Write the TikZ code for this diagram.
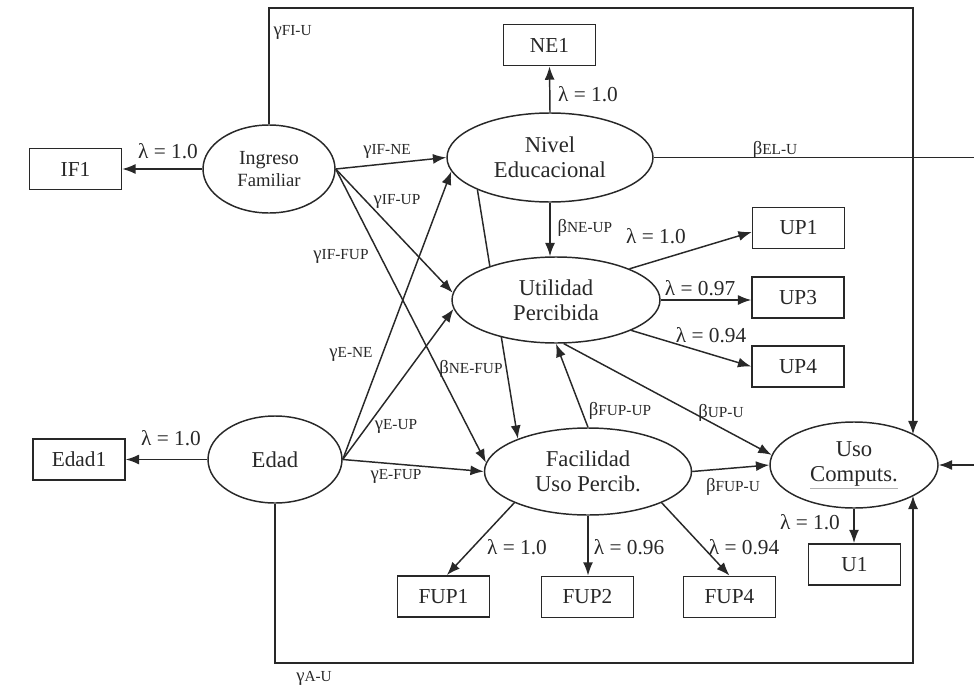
\documentclass[tikz,border=0pt]{standalone}
\usepackage{fontspec}
\setmainfont{Liberation Serif}
\usetikzlibrary{shapes.geometric,arrows.meta,backgrounds}
\newcommand\gl[1]{{\fontsize{14}{14}\selectfont γ}{\fontsize{11.5}{11.5}\selectfont #1}}
\newcommand\bl[1]{{\fontsize{14}{14}\selectfont β}{\fontsize{11.5}{11.5}\selectfont #1}}
\definecolor{ink}{RGB}{40,40,40}
\tikzset{
  lat/.style={draw=ink, ellipse, line width=1.1pt, fill=white, inner sep=0pt, align=center, text=ink, font=\fontsize{17}{19}\selectfont},
  obs/.style={draw=ink, rectangle, line width=1.1pt, inner sep=0pt, minimum width=69pt, minimum height=31pt, text=ink, font=\fontsize{16}{18}\selectfont},
  arr/.style={draw=ink, line width=1.1pt, -{Latex[length=10pt,width=7.5pt]}},
  ln/.style={draw=ink, line width=1.1pt},
  lam/.style={text=ink, inner sep=1pt, font=\fontsize{16}{18}\selectfont},
  coef/.style={text=ink, inner sep=1pt}
}
\begin{document}
\begin{tikzpicture}[x=0.75pt,y=-0.75pt]
\useasboundingbox (0,0) rectangle (974,692);
% latent variables
\node[lat, minimum width=99pt, minimum height=66pt] (ing) at (269,169) {{\fontsize{15}{17}\selectfont Ingreso}\\[-2pt]{\fontsize{14}{16}\selectfont Familiar}};
\node[lat, minimum width=154.5pt, minimum height=66.75pt] (niv) at (550,157.5) {Nivel\\Educacional};
\node[lat, minimum width=156pt, minimum height=64.5pt] (util) at (556,300) {Utilidad\\Percibida};
\node[lat, minimum width=100.5pt, minimum height=65.25pt] (edad) at (275,459.5) {Edad};
\node[lat, minimum width=155.25pt, minimum height=65.25pt] (fac) at (588,471.5) {Facilidad\\Uso Percib.};
\node[lat, minimum width=126pt, minimum height=64.5pt] (uso) at (854,465) {Uso\\{\color{gray!60}\underline{\textcolor{ink}{Computs.}}}};
% observed variables
\node[obs] (if1) at (75.5,169) {IF1};
\node[obs] (ne1) at (549.5,45) {NE1};
\node[obs] (up1) at (798.5,228) {UP1};
\node[obs] (up3) at (798,297.5) {UP3};
\node[obs] (up4) at (798,366.5) {UP4};
\node[obs] (edad1) at (79,459.5) {Edad1};
\node[obs] (fup1) at (443.5,596.5) {FUP1};
\node[obs] (fup2) at (587.5,597) {FUP2};
\node[obs] (fup4) at (729.5,597) {FUP4};
\node[obs] (u1) at (854.5,564.5) {U1};
% free ends
\coordinate (tr) at (913,8);
\coordinate (br) at (913,663);
\coordinate (elr) at (974,157.5);
\coordinate (rin) at (974,465);
% line hidden behind Utilidad
\begin{pgfonlayer}{background}
\draw[arr] (niv.204) -- (fac.155);
\end{pgfonlayer}
% measurement arrows
\draw[arr] (ing.west) -- (if1.east);
\draw[arr] (edad.west) -- (edad1.east);
\draw[arr] (niv.north) -- (ne1.south);
\draw[arr] (util.23) -- ([yshift=-3pt]up1.west);
\draw[arr] (util.east) -- (util.east -| up3.west);
\draw[arr] (util.-22) -- (up4.west);
\draw[arr] (fac.203) -- ([xshift=2.5pt]fup1.north);
\draw[arr] (fac.south) -- (fac.south |- fup2.north);
\draw[arr] (fac.-23) -- (fup4.north);
\draw[arr] (uso.south) -- (uso.south |- u1.north);
% structural arrows
\draw[arr] (ing.east) -- (niv.west);
\draw[arr] (ing.east) -- (util.176);
\draw[arr] (ing.east) -- (fac.175);
\draw[arr] (edad.east) -- (niv.188);
\draw[arr] (edad.east) -- (util.185);
\draw[arr] (edad.east) -- (fac.west);
\draw[arr] (niv.south) -- (niv.south |- util.north);
\draw[arr] (fac.north) -- (util.south);
\draw[arr] (util.-80) -- (uso.173);
\draw[arr] (fac.east) -- (uso.west);
\draw[arr] (ing.north) |- (tr) -- (tr |- uso.27);
\draw[arr] (edad.south) |- (br) -- (br |- uso.-27);
\draw[ln] (niv.east) -- (elr);
\draw[arr] (rin) -- (uso.east);
% labels
\node[lam] (l1) at (168,151) {λ = 1.0};
\node[lam] (l2) at (171,438) {λ = 1.0};
\node[lam] (l3) at (588,94) {λ = 1.0};
\node[lam] (l4) at (656,236) {λ = 1.0};
\node[lam] (l5) at (700,288) {λ = 0.97};
\node[lam] (l6) at (711,335) {λ = 0.94};
\node[lam] (l7) at (517,547) {λ = 1.0};
\node[lam] (l8) at (629,547) {λ = 0.96};
\node[lam] (l9) at (744,547) {λ = 0.94};
\node[lam] (l10) at (810,522) {λ = 1.0};
\node[coef, anchor=west] (c1) at (272,32) {\gl{FI-U}};
\node[coef] (c2) at (387,151) {\gl{IF-NE}};
\node[coef] (c3) at (397,201) {\gl{IF-UP}};
\node[coef] (c4) at (341,256) {\gl{IF-FUP}};
\node[coef] (c5) at (351,354) {\gl{E-NE}};
\node[coef] (c6) at (396,426) {\gl{E-UP}};
\node[coef] (c7) at (396,476) {\gl{E-FUP}};
\node[coef] (c8) at (314,678) {\gl{A-U}};
\node[coef] (b1) at (471,369) {\bl{NE-FUP}};
\node[coef, anchor=west] (b2) at (556,228) {\bl{NE-UP}};
\node[coef] (b3) at (775,150) {\bl{EL-U}};
\node[coef] (b4) at (620,411) {\bl{FUP-UP}};
\node[coef] (b5) at (721,413) {\bl{UP-U}};
\node[coef] (b6) at (733,487) {\bl{FUP-U}};
\end{tikzpicture}
\end{document}
